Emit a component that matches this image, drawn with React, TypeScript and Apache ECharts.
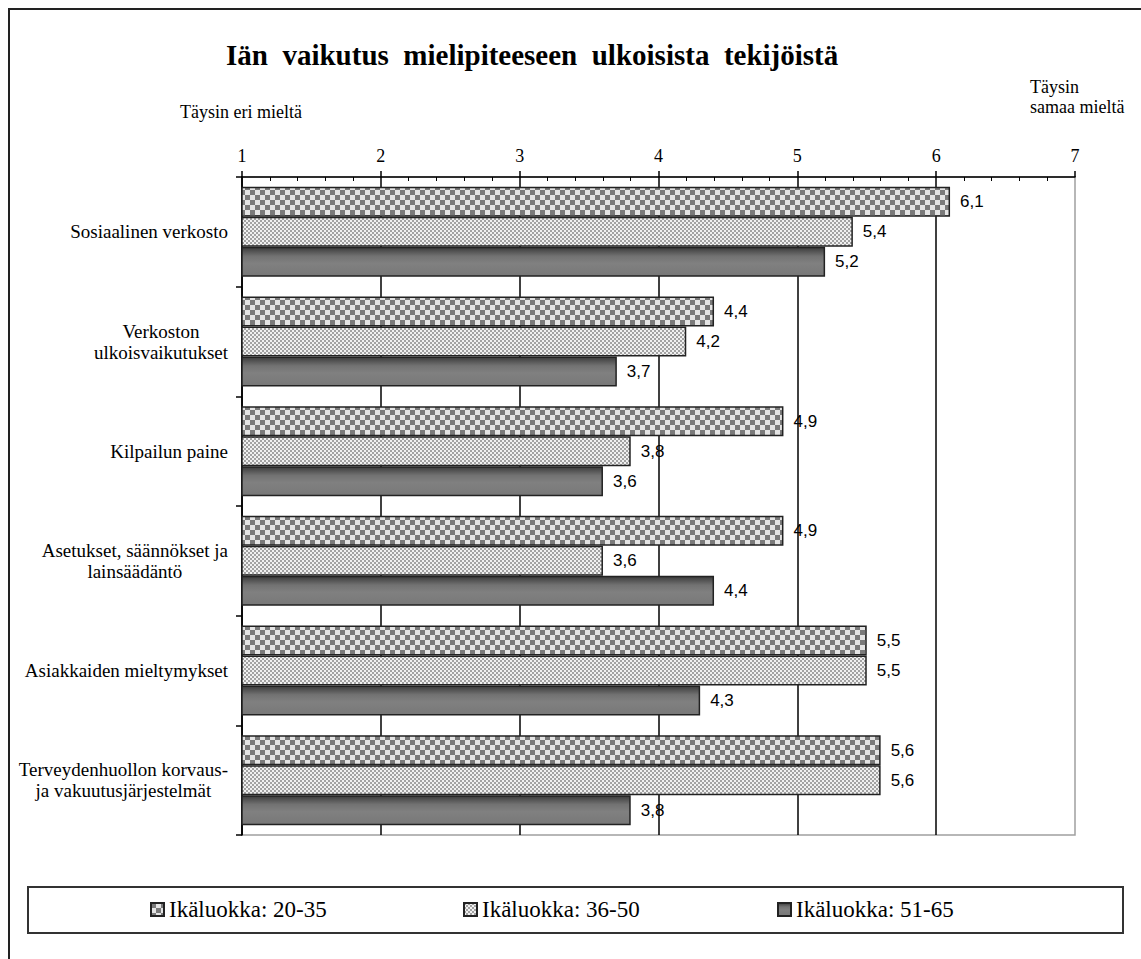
import React, { useEffect, useRef } from "react";
import * as echarts from "echarts";

// Survey statements (y axis), top to bottom
const categories = [
  "Sosiaalinen verkosto",
  "Verkoston\nulkoisvaikutukset",
  "Kilpailun paine",
  "Asetukset, säännökset ja\nlainsäädäntö",
  "Asiakkaiden mieltymykset",
  "Terveydenhuollon korvaus-\nja vakuutusjärjestelmät",
];

// Age groups
const seriesNames = ["Ikäluokka: 20-35", "Ikäluokka: 36-50", "Ikäluokka: 51-65"];

// Mean agreement on a 1–7 scale
const age20to35 = [6.1, 4.4, 4.9, 4.9, 5.5, 5.6];
const age36to50 = [5.4, 4.2, 3.8, 3.6, 5.5, 5.6];
const age51to65 = [5.2, 3.7, 3.6, 4.4, 4.3, 3.8];

// Scale end points and their captions
const scaleMin = 1;
const scaleMax = 7;
const lowCaption = "Täysin eri mieltä";
const highCaption = "Täysin\nsamaa mieltä";
const chartTitle = "Iän  vaikutus  mielipiteeseen  ulkoisista  tekijöistä";

const SERIF = "Liberation Serif";
const SANS = "Liberation Sans";

function checker(cell: number, dark: string, light: string) {
  const c = document.createElement("canvas");
  c.width = cell * 2;
  c.height = cell * 2;
  const ctx = c.getContext("2d")!;
  ctx.fillStyle = light;
  ctx.fillRect(0, 0, cell * 2, cell * 2);
  ctx.fillStyle = dark;
  ctx.fillRect(0, 0, cell, cell);
  ctx.fillRect(cell, cell, cell, cell);
  return c;
}

export default function App() {
  const ref = useRef<HTMLDivElement>(null);

  useEffect(() => {
    document.body.style.margin = "0";
    document.body.style.overflow = "hidden";
    if (!ref.current) return;
    const chart = echarts.init(ref.current, undefined, { renderer: "svg" });

    const coarse = { image: checker(5, "#7a7a7a", "#e4e4e4"), repeat: "repeat" };
    const fine = { image: checker(2, "#a2a2a2", "#f0f0f0"), repeat: "repeat" };
    const solid = new echarts.graphic.LinearGradient(0, 0, 0, 1, [
      { offset: 0, color: "#3c3c3c" },
      { offset: 0.3, color: "#727272" },
      { offset: 0.55, color: "#808080" },
      { offset: 1, color: "#787878" },
    ]);
    const fills = [coarse, fine, solid];
    const values = [age20to35, age36to50, age51to65];

    const legendLefts = [150, 463, 777];

    chart.setOption({
      animation: false,
      backgroundColor: "#ffffff",
      textStyle: { fontFamily: SERIF },
      title: {
        text: chartTitle,
        left: 226,
        top: 40,
        padding: 0,
        textStyle: { fontFamily: SERIF, fontWeight: "bold", fontSize: 29, color: "#000" },
      },
      legend: seriesNames.map((name, i) => ({
        data: [name],
        left: legendLefts[i],
        top: 898,
        padding: 0,
        itemWidth: 13,
        itemHeight: 13,
        itemGap: 0,
        icon: "rect",
        selectedMode: false,
        textStyle: { fontFamily: SERIF, fontSize: 23, color: "#000" },
      })),
      grid: {
        left: 242,
        top: 177,
        right: 66,
        bottom: 124,
        show: true,
        borderColor: "#a0a0a0",
        borderWidth: 1.5,
        containLabel: false,
        outerBoundsMode: "none",
      },
      xAxis: [
        {
          type: "value",
          position: "top",
          min: scaleMin,
          max: scaleMax,
          interval: 1,
          axisLine: { show: true, lineStyle: { color: "#000", width: 1.5 } },
          axisTick: { show: true, inside: false, length: 6, lineStyle: { color: "#000", width: 1.5 } },
          axisLabel: { fontFamily: SERIF, fontSize: 18, color: "#000", margin: 12 },
          splitLine: { show: true, showMaxLine: false, lineStyle: { color: "#000", width: 1.5 } },
        },
        {
          type: "value",
          position: "top",
          min: scaleMin,
          max: scaleMax,
          interval: 1,
          axisLine: { show: false },
          axisTick: { show: false, inside: true },
          minorTick: { show: true, splitNumber: 5, length: 4, lineStyle: { color: "#000", width: 1 } },
          axisLabel: { show: false },
          splitLine: { show: false },
        },
      ],
      yAxis: {
        type: "category",
        inverse: true,
        data: categories,
        axisLine: { show: true, lineStyle: { color: "#000", width: 1.5 } },
        axisTick: { show: true, inside: false, length: 6, lineStyle: { color: "#000", width: 1.5 } },
        axisLabel: {
          margin: 14,
          align: "right",
          fontFamily: SERIF,
          fontSize: 19,
          formatter: (v: string) => v.split("\n").map((l) => `{c|${l}}`).join("\n"),
          rich: {
            c: { align: "center", fontFamily: SERIF, fontSize: 19, lineHeight: 21, color: "#000" },
          },
        },
      },
      series: seriesNames.map((name, i) => ({
        name,
        type: "bar",
        xAxisIndex: 0,
        data: values[i],
        barGap: "0%",
        barCategoryGap: "18%",
        itemStyle: { color: fills[i], borderColor: "#222", borderWidth: 1.5 },
        label: {
          show: true,
          position: "right",
          distance: 10,
          fontFamily: SANS,
          fontSize: 17,
          color: "#000",
          formatter: (p: any) => String(p.value).replace(".", ","),
        },
      })),
      graphic: [
        {
          type: "line",
          shape: { x1: 9, y1: 8, x2: 9, y2: 959 },
          style: { stroke: "#222", lineWidth: 2 },
        },
        {
          type: "line",
          shape: { x1: 8, y1: 9, x2: 1141, y2: 9 },
          style: { stroke: "#222", lineWidth: 2 },
        },
        {
          type: "rect",
          shape: { x: 28, y: 887, width: 1095, height: 46 },
          style: { fill: "none", stroke: "#333", lineWidth: 2 },
          z: -1,
        },
        {
          type: "text",
          x: 180,
          y: 112,
          style: {
            text: lowCaption,
            fontFamily: SERIF,
            fontSize: 18,
            fill: "#000",
            textVerticalAlign: "middle",
          },
        },
        {
          type: "text",
          x: 1030,
          y: 77,
          style: {
            text: highCaption,
            fontFamily: SERIF,
            fontSize: 18,
            lineHeight: 20,
            fill: "#000",
          },
        },
      ],
    });

    return () => chart.dispose();
  }, []);

  return <div ref={ref} style={{ width: 1141, height: 959 }} />;
}
